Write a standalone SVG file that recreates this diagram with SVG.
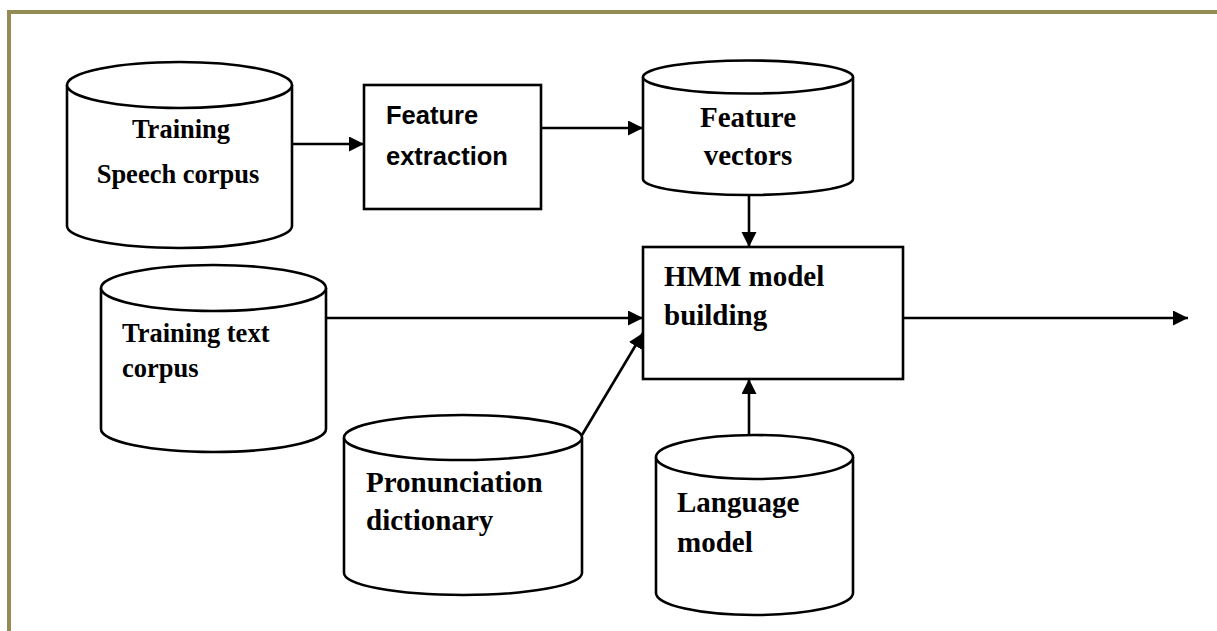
<svg xmlns="http://www.w3.org/2000/svg" width="1217" height="631" viewBox="0 0 1217 631">
  <style>
    .shape { fill: #ffffff; stroke: #000000; stroke-width: 2.6; }
    .edge { fill: none; stroke: #000000; stroke-width: 2.6; }
    .serif { font-family: "Liberation Serif", "Times New Roman", serif; font-weight: bold; fill: #000000; }
    .big { font-size: 29px; }
    .small { font-size: 26.5px; }
    .sans { font-family: "Liberation Sans", Arial, sans-serif; font-weight: bold; font-size: 25.5px; fill: #000000; }
    .frame { fill: #958b55; }
  </style>
  <defs>
    <marker id="arrow" markerUnits="userSpaceOnUse" markerWidth="16" markerHeight="16" refX="15" refY="7.5" orient="auto">
      <path d="M0,0 L15,7.5 L0,15 z" fill="#000000"/>
    </marker>
  </defs>

  <rect width="1217" height="631" fill="#ffffff"/>

  <!-- page frame -->
  <rect class="frame" x="7" y="10" width="1210" height="4"/>
  <rect class="frame" x="7" y="10" width="4" height="621"/>

  <g id="connectors">
    <line class="edge" x1="292" y1="144" x2="364" y2="144" marker-end="url(#arrow)"/>
    <line class="edge" x1="541" y1="128" x2="643" y2="128" marker-end="url(#arrow)"/>
    <line class="edge" x1="749" y1="195" x2="749" y2="247" marker-end="url(#arrow)"/>
    <line class="edge" x1="326" y1="318" x2="643" y2="318" marker-end="url(#arrow)"/>
    <line class="edge" x1="582" y1="435" x2="643" y2="333" marker-end="url(#arrow)"/>
    <line class="edge" x1="749" y1="435" x2="749" y2="379" marker-end="url(#arrow)"/>
    <line class="edge" x1="903" y1="318" x2="1188" y2="318" marker-end="url(#arrow)"/>
  </g>

  <g id="speech-corpus">
    <path class="shape" d="M67,85 L67,226 A112.5,22 0 0 0 292,226 L292,85"/>
    <ellipse class="shape" cx="179.5" cy="85" rx="112.5" ry="23"/>
    <text class="serif small" x="181" y="138" text-anchor="middle">Training</text>
    <text class="serif small" x="178" y="183" text-anchor="middle">Speech corpus</text>
  </g>

  <g id="feature-extraction">
    <rect class="shape" x="364" y="85" width="177" height="124"/>
    <text class="sans" x="386" y="124">Feature</text>
    <text class="sans" x="386" y="165">extraction</text>
  </g>

  <g id="feature-vectors">
    <path class="shape" d="M643,77 L643,179 A105,16 0 0 0 853,179 L853,77"/>
    <ellipse class="shape" cx="748" cy="77" rx="105" ry="16.5"/>
    <text class="serif big" x="748" y="127" text-anchor="middle">Feature</text>
    <text class="serif big" x="748" y="165" text-anchor="middle">vectors</text>
  </g>

  <g id="text-corpus">
    <path class="shape" d="M101,288 L101,429 A112.5,23 0 0 0 326,429 L326,288"/>
    <ellipse class="shape" cx="213.5" cy="288" rx="112.5" ry="23"/>
    <text class="serif small" x="122" y="342">Training text</text>
    <text class="serif small" x="122" y="377">corpus</text>
  </g>

  <g id="hmm-building">
    <rect class="shape" x="643" y="247" width="260" height="132"/>
    <text class="serif big" x="664" y="286">HMM model</text>
    <text class="serif big" x="664" y="325">building</text>
  </g>

  <g id="pronunciation-dictionary">
    <path class="shape" d="M344,437.5 L344,573 A119,22 0 0 0 582,573 L582,437.5"/>
    <ellipse class="shape" cx="463" cy="437.5" rx="119" ry="22.5"/>
    <text class="serif big" x="366" y="492">Pronunciation</text>
    <text class="serif big" x="366" y="530">dictionary</text>
  </g>

  <g id="language-model">
    <path class="shape" d="M656,457 L656,593 A98.5,22 0 0 0 853,593 L853,457"/>
    <ellipse class="shape" cx="754.5" cy="457" rx="98.5" ry="22"/>
    <text class="serif big" x="677" y="512">Language</text>
    <text class="serif big" x="677" y="552">model</text>
  </g>
</svg>
